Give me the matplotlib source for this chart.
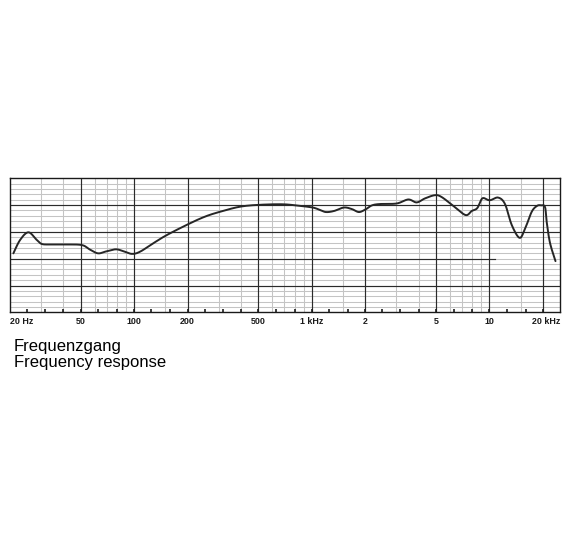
import numpy as np
import matplotlib
matplotlib.use("Agg")
import matplotlib.pyplot as plt
from matplotlib.transforms import blended_transform_factory

# ---- data ----
freq_hz = [20.9, 22.8, 25.4, 28.3, 30.2, 33.6, 40.8, 50.7, 56.4, 62.6,
           69.4, 79.0, 87.7, 97.3, 107.9, 127.7, 152.5, 201.8, 250.6, 304,
           394, 507, 689, 859, 1013, 1113, 1203, 1335, 1519, 1685,
           1846, 2021, 2184, 2423, 3010, 3497, 3900, 4343, 4943, 5392,
           6268, 7342, 7958, 8556, 9128, 9826, 10216, 11232, 12252, 13368,
           14788, 15874, 17322, 18552, 19540, 20580, 21040, 21960, 23580]
level_db = [-8.0, -3.0, -0.15, -3.0, -4.5, -4.7, -4.7, -4.9, -6.6, -8.0,
            -7.3, -6.5, -7.3, -8.2, -7.4, -4.3, -1.2, 2.9, 5.7, 7.5,
            9.4, 10.1, 10.3, 9.7, 9.1, 8.2, 7.4, 7.8, 9.1, 8.5,
            7.4, 8.5, 9.9, 10.4, 10.6, 12.1, 11.0, 12.5, 13.7, 13.0,
            9.7, 6.3, 7.8, 8.9, 12.5, 11.9, 11.9, 12.8, 10.4, 2.6,
            -2.2, 1.1, 7.5, 9.7, 9.9, 9.3, 3.7, -4.1, -10.9]

tick_freqs = [20, 50, 100, 200, 500, 1000, 2000, 5000, 10000, 20000]
tick_labels = ["20 Hz", "50", "100", "200", "500", "1 kHz", "2", "5", "10", "20 kHz"]

major_vlines = [50, 100, 200, 500, 1000, 2000, 5000, 10000, 20000]
minor_vlines = [30, 40, 60, 70, 80, 90, 150, 300, 400, 600, 700, 800, 900,
                1500, 3000, 4000, 6000, 7000, 8000, 9000, 15000]
major_hlines = [10, 0, -10, -20]
minor_hlines = [18, 16, 14, 12, 8, 6, 4, 2, -2, -4, -6, -8, -12, -14, -16, -18,
                -22, -24, -26, -28]
third_octave_ticks = [25, 31.5, 40, 50, 63, 80, 100, 125, 160, 200, 250, 315, 400,
                      500, 630, 800, 1000, 1250, 1600, 2000, 2500, 3150, 4000,
                      5000, 6300, 8000, 10000, 12500, 16000, 20000]

title_de = "Frequenzgang"
title_en = "Frequency response"

f_min, f_max = 20, 25000
db_min, db_max = -30, 20

# ---- figure ----
fig = plt.figure(figsize=(5.70, 5.35), dpi=100)
fig.patch.set_facecolor("white")
W, H = 570, 535
left, right, top, bottom = 10, 560, 178.3, 312.3
ax = fig.add_axes([left / W, (H - bottom) / H, (right - left) / W, (bottom - top) / H])
ax.set_xscale("log")
ax.set_xlim(f_min, f_max)
ax.set_ylim(db_min, db_max)
ax.set_xticks([])
ax.set_yticks([])
ax.minorticks_off()
for s in ax.spines.values():
    s.set_color("#1a1a1a")
    s.set_linewidth(1.0)

grey = "#c4c4c4"
dark = "#2b2b2b"
for y in minor_hlines:
    ax.axhline(y, color=grey, lw=0.75, zorder=1)
for x in minor_vlines:
    ax.axvline(x, color=grey, lw=0.75, zorder=1)
for x in major_vlines:
    ax.axvline(x, color=dark, lw=0.85, zorder=2)
for y in major_hlines:
    if y == -10:
        ax.plot([f_min, 10800], [y, y], color=dark, lw=0.85, zorder=2)
        ax.plot([10800, f_max], [y, y], color=grey, lw=0.75, zorder=1)
    else:
        ax.axhline(y, color=dark, lw=0.85, zorder=2)

# 1/3-octave tick marks on the bottom edge
ax.vlines(third_octave_ticks, db_min, db_min + 1.3, color="#1a1a1a", lw=1.2, zorder=3)

# smooth curve through the read points (Catmull-Rom in log-frequency space)
lx = np.log10(np.array(freq_hz))
ly = np.array(level_db)
P = np.column_stack([lx, ly])
Pp = np.vstack([P[0], P, P[-1]])
seg = []
ts = np.linspace(0, 1, 12, endpoint=False)
for i in range(1, len(Pp) - 2):
    p0, p1, p2, p3 = Pp[i - 1], Pp[i], Pp[i + 1], Pp[i + 2]
    for t in ts:
        t2, t3 = t * t, t * t * t
        pt = 0.5 * ((2 * p1) + (-p0 + p2) * t + (2 * p0 - 5 * p1 + 4 * p2 - p3) * t2
                    + (-p0 + 3 * p1 - 3 * p2 + p3) * t3)
        seg.append(pt)
seg.append(P[-1])
seg = np.array(seg)
ax.plot(10 ** seg[:, 0], seg[:, 1], color="#262626", lw=1.4, zorder=4,
        solid_capstyle="round", solid_joinstyle="round")

# tick labels below the box
trans = blended_transform_factory(ax.transData, ax.transAxes)
for f, lab in zip(tick_freqs, tick_labels):
    ha = "center"
    xf = f
    if f == f_min:
        ha = "left"
    elif f == 20000:
        ha = "right"
        xf = f_max
    ax.annotate(lab, xy=(xf, 0), xycoords=trans, xytext=(0, -6.4),
                textcoords="offset points", ha=ha, va="center",
                fontsize=6.4, fontweight="bold", family="Liberation Sans",
                color="#1a1a1a")

fig.text(14 / W, (H - 350.7) / H, title_de, fontsize=12, family="Liberation Sans",
         va="baseline", ha="left", color="black")
fig.text(14 / W, (H - 367.3) / H, title_en, fontsize=12, family="Liberation Sans",
         va="baseline", ha="left", color="black")

fig.savefig("out.png", dpi=100, facecolor="white")
